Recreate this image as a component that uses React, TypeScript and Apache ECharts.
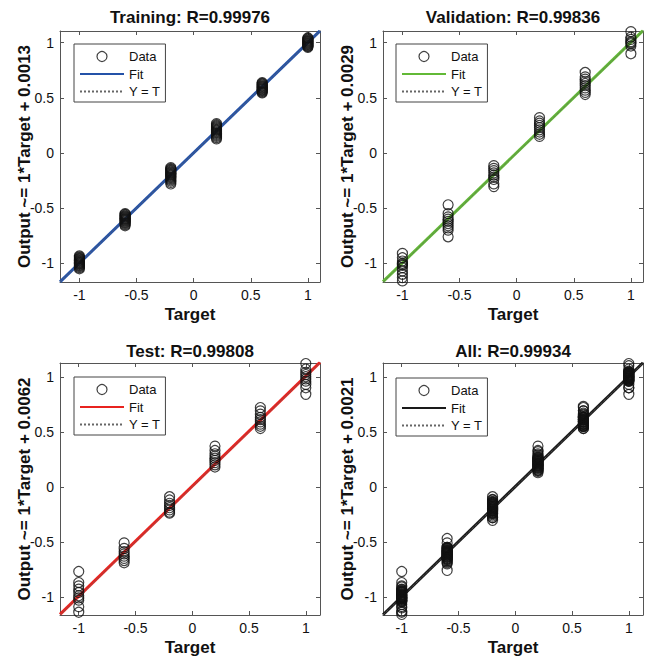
import React, { useEffect, useRef } from "react";
import * as echarts from "echarts";

// Target classes (x positions of the clusters)
const targets = [-1, -0.6, -0.2, 0.2, 0.6, 1];

// Network outputs read for each target, per data split
const trainOutputs = [
  [-0.934, -0.942, -0.95, -0.957, -0.963, -0.97, -0.976, -0.982, -0.988, -0.993, -0.998, -1.003, -1.009, -1.015, -1.022, -1.03, -1.04, -1.05],
  [-0.55, -0.557, -0.565, -0.572, -0.578, -0.584, -0.59, -0.595, -0.6, -0.605, -0.611, -0.617, -0.624, -0.632, -0.64, -0.65, -0.66],
  [-0.133, -0.142, -0.15, -0.158, -0.166, -0.174, -0.181, -0.188, -0.195, -0.202, -0.209, -0.216, -0.224, -0.233, -0.243, -0.254, -0.267, -0.281],
  [0.266, 0.256, 0.247, 0.238, 0.229, 0.221, 0.213, 0.206, 0.199, 0.192, 0.185, 0.177, 0.169, 0.16, 0.15, 0.139, 0.128],
  [0.637, 0.63, 0.623, 0.616, 0.609, 0.603, 0.597, 0.591, 0.585, 0.579, 0.573, 0.566, 0.559, 0.552, 0.545],
  [1.045, 1.038, 1.031, 1.024, 1.018, 1.012, 1.006, 1.0, 0.994, 0.988, 0.982, 0.976, 0.97, 0.964, 0.958],
];
const valOutputs = [
  [-0.91, -0.95, -0.98, -1.0, -1.01, -1.02, -1.04, -1.07, -1.1, -1.13, -1.16],
  [-0.47, -0.55, -0.58, -0.6, -0.62, -0.64, -0.66, -0.68, -0.7, -0.76],
  [-0.115, -0.14, -0.16, -0.18, -0.2, -0.22, -0.24, -0.28, -0.305],
  [0.32, 0.29, 0.27, 0.25, 0.23, 0.21, 0.19, 0.17, 0.15],
  [0.73, 0.69, 0.67, 0.65, 0.63, 0.61, 0.59, 0.57, 0.55, 0.53],
  [1.1, 1.05, 1.03, 1.01, 1.0, 0.99, 0.97, 0.9],
];
const testOutputs = [
  [-0.77, -0.87, -0.9, -0.93, -0.96, -0.99, -1.01, -1.03, -1.09, -1.14],
  [-0.51, -0.56, -0.59, -0.61, -0.63, -0.65, -0.67, -0.69],
  [-0.09, -0.12, -0.15, -0.17, -0.19, -0.21, -0.23, -0.24],
  [0.37, 0.33, 0.3, 0.28, 0.26, 0.24, 0.22, 0.2, 0.18],
  [0.72, 0.69, 0.66, 0.63, 0.61, 0.59, 0.57, 0.55, 0.53],
  [1.12, 1.07, 1.04, 1.02, 1.0, 0.98, 0.96, 0.93, 0.9, 0.84],
];
const allOutputs = targets.map((_, i) => [
  ...trainOutputs[i],
  ...valOutputs[i],
  ...testOutputs[i],
]);

const panelNames = ["Training", "Validation", "Test", "All"];
const rValues = ["0.99976", "0.99836", "0.99808", "0.99934"];
const fitOffsets = ["0.0013", "0.0029", "0.0062", "0.0021"];
const fitSlopes = [1, 1, 1, 1];
const tickValues = [-1, -0.5, 0, 0.5, 1];
const panelOutputs = [trainOutputs, valOutputs, testOutputs, allOutputs];

const FONT = "'Liberation Sans', Arial, Helvetica, sans-serif";
const fitColors = ["#2452a8", "#62b936", "#e8231f", "#1a1a1a"];

const layouts = [
  { left: 60, top: 31, width: 260, height: 251, lo: -1.17, hi: 1.106, cx: 190, titleTop: 9, legendLeft: 74, legendTop: 44 },
  { left: 383, top: 31, width: 260, height: 251, lo: -1.17, hi: 1.106, cx: 513, titleTop: 9, legendLeft: 396, legendTop: 44 },
  { left: 60, top: 363, width: 260, height: 252, lo: -1.165, hi: 1.125, cx: 190, titleTop: 343, legendLeft: 74, legendTop: 377 },
  { left: 383, top: 363, width: 260, height: 252, lo: -1.165, hi: 1.125, cx: 513, titleTop: 343, legendLeft: 396, legendTop: 378 },
];

export default function App() {
  const ref = useRef<HTMLDivElement>(null);
  useEffect(() => {
    const chart = echarts.init(ref.current!, null, { renderer: "svg" });
    const grid: any[] = [];
    const xAxis: any[] = [];
    const yAxis: any[] = [];
    const series: any[] = [];
    const legend: any[] = [];
    const title: any[] = [];

    layouts.forEach((L, p) => {
      grid.push({ left: L.left, top: L.top, width: L.width, height: L.height, containLabel: false });
      const common = {
        type: "value",
        min: L.lo,
        max: L.hi,
        gridIndex: p,
        splitLine: { show: false },
        axisLine: { show: true, onZero: false, lineStyle: { color: "#555", width: 1 } },
        axisTick: { show: true, inside: true, length: 4, customValues: tickValues, lineStyle: { color: "#555" } },
      };
      const labelStyle = { customValues: tickValues, fontSize: 14, color: "#111", fontFamily: FONT, margin: 6 };
      const nameStyle = { fontSize: 17, fontWeight: "bold", color: "#111", fontFamily: FONT };
      xAxis.push({
        ...common,
        position: "bottom",
        axisLabel: labelStyle,
        name: "Target",
        nameLocation: "middle",
        nameGap: 24,
        nameTextStyle: nameStyle,
      });
      xAxis.push({ ...common, position: "top", axisLabel: { show: false } });
      yAxis.push({
        ...common,
        position: "left",
        axisLabel: labelStyle,
        name: `Output ~= ${fitSlopes[p]}*Target + ${fitOffsets[p]}`,
        nameLocation: "middle",
        nameGap: 27,
        nameMoveOverlap: false,
        nameRotate: 90,
        nameTextStyle: nameStyle,
      });
      yAxis.push({ ...common, position: "right", axisLabel: { show: false } });

      const b = parseFloat(fitOffsets[p]);
      const m = fitSlopes[p];
      series.push({
        name: `Fit#${p}`,
        type: "line",
        xAxisIndex: 2 * p,
        yAxisIndex: 2 * p,
        symbol: "none",
        z: 2,
        lineStyle: { color: fitColors[p], width: 3 },
        itemStyle: { color: fitColors[p] },
        data: [
          [L.lo, m * L.lo + b],
          [L.hi, m * L.hi + b],
        ],
      });
      series.push({
        name: `Y = T#${p}`,
        type: "line",
        xAxisIndex: 2 * p,
        yAxisIndex: 2 * p,
        symbol: "none",
        z: 2,
        lineStyle: { color: "#666", width: 1, type: "dotted" },
        itemStyle: { color: "#666" },
        data: [
          [L.lo, L.lo],
          [L.hi, L.hi],
        ],
      });
      series.push({
        name: `Data#${p}`,
        type: "scatter",
        xAxisIndex: 2 * p,
        yAxisIndex: 2 * p,
        symbol: "circle",
        symbolSize: 10,
        z: 3,
        itemStyle: { color: "rgba(0,0,0,0)", borderColor: "#111", borderWidth: 1.2 },
        data: targets.flatMap((t, i) => panelOutputs[p][i].map((v) => [t, v])),
      });

      legend.push({
        left: L.legendLeft,
        top: L.legendTop,
        orient: "vertical",
        data: [
          { name: `Data#${p}`, itemStyle: { borderWidth: 1.2, borderColor: "#111", color: "rgba(0,0,0,0)" } },
          { name: `Fit#${p}`, itemStyle: { opacity: 0 } },
          { name: `Y = T#${p}`, itemStyle: { opacity: 0 } },
        ],
        formatter: (name: string) => name.split("#")[0],
        itemWidth: 44,
        itemHeight: 10,
        itemGap: 2.5,
        padding: [5, 5, 3, 5],
        borderColor: "#444",
        borderWidth: 1,
        borderRadius: 0,
        backgroundColor: "#fff",
        selectedMode: false,
        textStyle: { fontSize: 13, fontFamily: FONT, color: "#111", lineHeight: 15 },
      });

      title.push({
        text: `${panelNames[p]}: R=${rValues[p]}`,
        left: L.cx,
        top: L.titleTop,
        textAlign: "center",
        padding: 0,
        textStyle: { fontSize: 17, fontWeight: "bold", color: "#111", fontFamily: FONT },
      });
    });

    chart.setOption({
      animation: false,
      backgroundColor: "#fff",
      title,
      legend,
      grid,
      xAxis,
      yAxis,
      series,
    });
    return () => chart.dispose();
  }, []);
  return (
    <div
      ref={ref}
      style={{ position: "absolute", left: 0, top: 0, width: 654, height: 657 }}
    />
  );
}
